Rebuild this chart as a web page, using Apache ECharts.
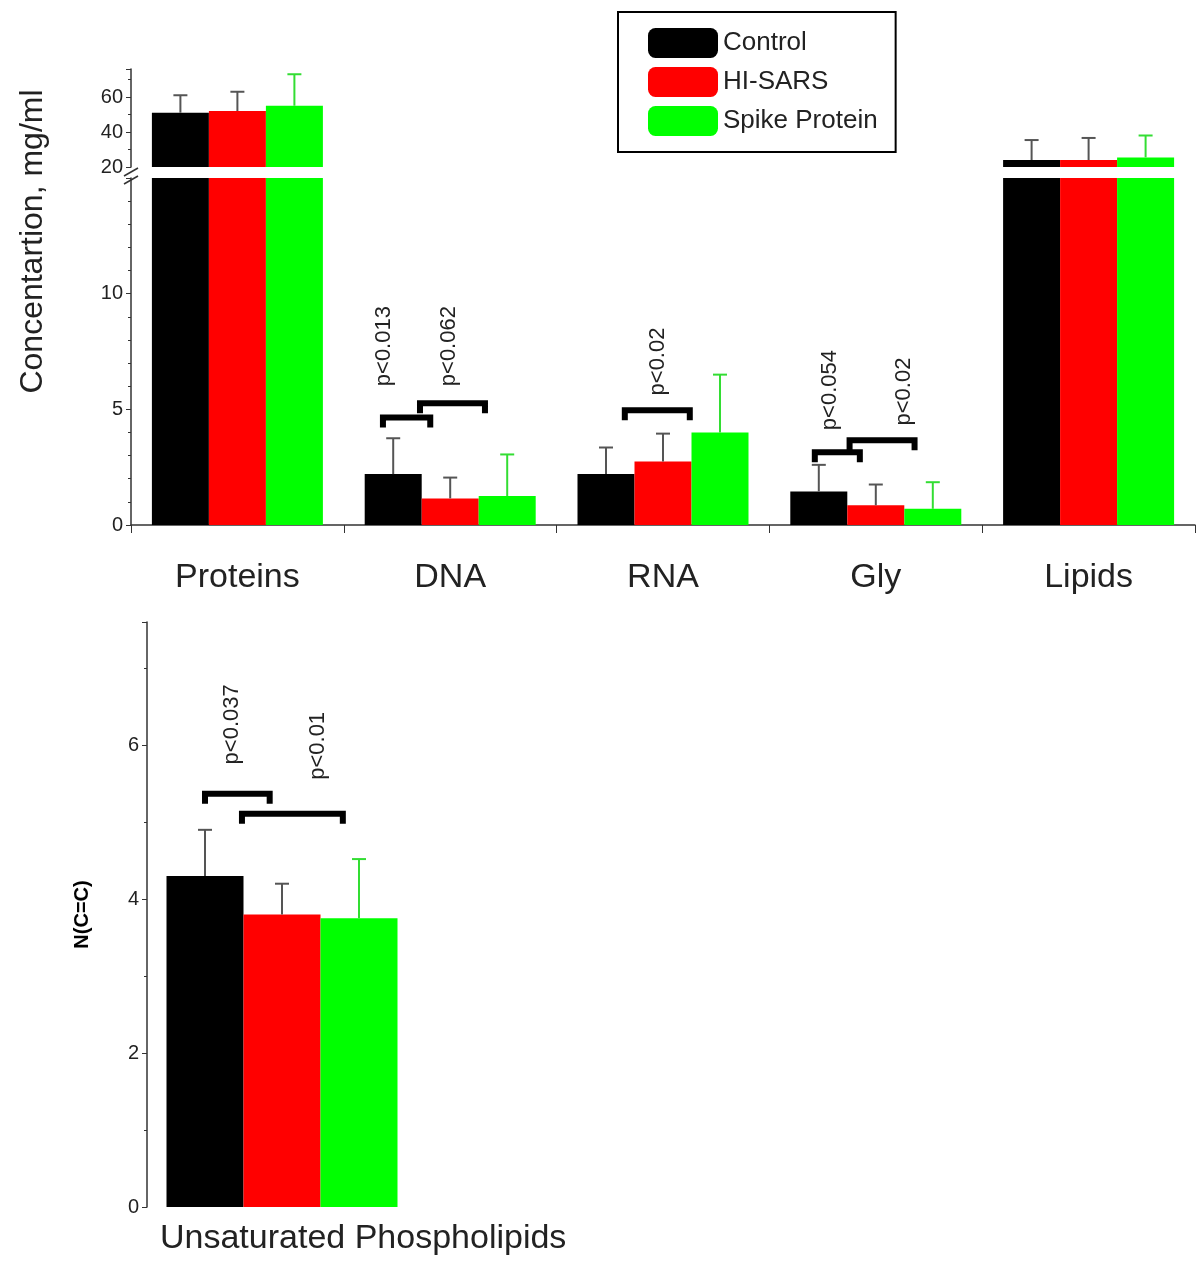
<!DOCTYPE html>
<html><head><meta charset="utf-8">
<script src="https://cdn.jsdelivr.net/npm/echarts@6/dist/echarts.min.js"></script>
<style>html,body{margin:0;background:#fff}#main{width:1200px;height:1266px}</style>
</head><body><div id="main"></div>
<script>
var categories = ['Proteins', 'DNA', 'RNA', 'Gly', 'Lipids'];
var seriesNames = ['Control', 'HI-SARS', 'Spike Protein'];
var colors = ['#000000', '#ff0000', '#00ff00'];
var errColors = ['#555555', '#555555', '#33dd33'];
var control = [51, 2.2, 2.2, 1.45, 24];
var hisars = [52, 1.15, 2.75, 0.85, 24];
var spike = [55, 1.25, 4.0, 0.7, 25.5];
var controlErr = [61, 3.75, 3.35, 2.6, 35.4];
var hisarsErr = [63, 2.05, 3.95, 1.75, 36.6];
var spikeErr = [73, 3.05, 6.5, 1.85, 38];
// brackets: [category, from bar pos, to bar pos, y, label x pos, label bottom y, text]
var brackets = [
  [1, -1.18, -0.35, 4.65, -1.17, 6.0, 'p<0.013'],
  [1, -0.53, 0.61, 5.26, -0.03, 6.0, 'p<0.062'],
  [2, -0.67, 0.47, 4.96, -0.09, 5.6, 'p<0.02'],
  [3, -1.07, -0.28, 3.15, -0.8, 4.1, 'p<0.054'],
  [3, -0.46, 0.68, 3.66, 0.5, 4.3, 'p<0.02']
];
var upCats = ['Unsaturated Phospholipids'];
var upVals = [[4.3], [3.8], [3.75]];
var upErr = [[4.9], [4.2], [4.52]];
var upBrackets = [
  [0, -1.0, -0.16, 5.37, -0.65, 5.75, 'p<0.037'],
  [0, -0.52, 0.79, 5.11, 0.47, 5.55, 'p<0.01']
];

var main = [control, hisars, spike];
var errs = [controlErr, hisarsErr, spikeErr];
var BW = 57, BW2 = 77;
var txt = '#222';
var font = 'Liberation Sans';

function errRender(bw) {
  return function (params, api) {
    var c = api.value(0), k = api.value(3);
    var p0 = api.coord([c, api.value(1)]);
    var p1 = api.coord([c, api.value(2)]);
    var x = p0[0] + (k - 1) * bw;
    var col = errColors[k];
    return {type: 'group', children: [
      {type: 'line', shape: {x1: x, y1: p0[1], x2: x, y2: p1[1]}, style: {stroke: col, lineWidth: 2}},
      {type: 'line', shape: {x1: x - 7, y1: p1[1], x2: x + 7, y2: p1[1]}, style: {stroke: col, lineWidth: 2}}
    ]};
  };
}
function brRender(bw, fs) {
  return function (params, api) {
    var c = api.value(0);
    var p = api.coord([c, api.value(3)]);
    var lb = api.coord([c, api.value(5)]);
    var xa = p[0] + api.value(1) * bw, xb = p[0] + api.value(2) * bw;
    var lx = p[0] + api.value(4) * bw;
    return {type: 'group', children: [
      {type: 'polyline', shape: {points: [[xa, p[1] + 10], [xa, p[1]], [xb, p[1]], [xb, p[1] + 10]]},
        style: {stroke: '#000', lineWidth: 6, fill: null}},
      {type: 'text', x: lx, y: lb[1], rotation: Math.PI / 2,
        style: {text: api.value(6), font: fs + 'px ' + font, fill: txt, align: 'left', verticalAlign: 'middle'}}
    ]};
  };
}

var series = [];
var errData = [], errUp = [];
for (var k = 0; k < 3; k++) {
  var low = main[k].slice();
  var up = main[k].map(function (v, i) { return (i === 0 || i === 4) ? v : null; });
  series.push({name: seriesNames[k], type: 'bar', xAxisIndex: 1, yAxisIndex: 1, data: low, barWidth: BW, barGap: '0%', clip: true, itemStyle: {color: colors[k]}});
  series.push({name: seriesNames[k], type: 'bar', xAxisIndex: 0, yAxisIndex: 0, data: up, barWidth: BW, barGap: '0%', clip: true, itemStyle: {color: colors[k]}});
  series.push({name: seriesNames[k], type: 'bar', xAxisIndex: 2, yAxisIndex: 2, data: upVals[k], barWidth: BW2, barGap: '0%', itemStyle: {color: colors[k]}});
  for (var i = 0; i < categories.length; i++) {
    if (i === 0 || i === 4) errUp.push([i, main[k][i], errs[k][i], k]);
    else errData.push([i, main[k][i], errs[k][i], k]);
  }
}
var errBottom = [];
for (var k2 = 0; k2 < 3; k2++) errBottom.push([0, upVals[k2][0], upErr[k2][0], k2]);

series.push({type: 'custom', xAxisIndex: 1, yAxisIndex: 1, data: errData, renderItem: errRender(BW), z: 5});
series.push({type: 'custom', xAxisIndex: 0, yAxisIndex: 0, data: errUp, renderItem: errRender(BW), z: 5});
series.push({type: 'custom', xAxisIndex: 2, yAxisIndex: 2, data: errBottom, renderItem: errRender(BW2), z: 5});
series.push({type: 'custom', xAxisIndex: 1, yAxisIndex: 1, data: brackets, renderItem: brRender(BW, 22), z: 6, clip: false});
series.push({type: 'custom', xAxisIndex: 2, yAxisIndex: 2, data: upBrackets, renderItem: brRender(BW2, 22), z: 6, clip: false});

var axLine = {lineStyle: {color: '#333', width: 1.5}};
var lbl = {color: txt, fontSize: 20, fontFamily: font};

var option = {
  animation: false,
  textStyle: {fontFamily: font},
  legend: {
    data: seriesNames, left: 618, top: 12, orient: 'vertical',
    padding: [16, 18, 16, 30], itemWidth: 70, itemHeight: 30, itemGap: 9,
    borderColor: '#000', borderWidth: 2, selectedMode: false,
    textStyle: {color: txt, fontSize: 26, fontFamily: font}
  },
  grid: [
    {left: 131, width: 1064, top: 69, height: 98},
    {left: 131, width: 1064, top: 178, height: 347},
    {left: 147, width: 270, top: 622, height: 585}
  ],
  xAxis: [
    {type: 'category', gridIndex: 0, data: categories, show: false},
    {type: 'category', gridIndex: 1, data: categories, axisLine: axLine,
      axisTick: {show: true, length: 8, lineStyle: {color: '#333'}},
      axisLabel: {color: txt, fontSize: 34, margin: 36, fontFamily: font}},
    {type: 'category', gridIndex: 2, data: upCats, axisLine: {show: false}, axisTick: {show: false}, axisLabel: {show: false}}
  ],
  yAxis: [
    {type: 'value', gridIndex: 0, min: 20, max: 76, interval: 20, splitLine: {show: false},
      axisLine: {show: true, lineStyle: {color: '#333', width: 1.5}}, axisTick: {show: true},
      minorTick: {show: true, splitNumber: 2}, axisLabel: Object.assign({showMaxLabel: false}, lbl)},
    {type: 'value', gridIndex: 1, min: 0, max: 15, interval: 5, splitLine: {show: false},
      axisLine: {show: true, lineStyle: {color: '#333', width: 1.5}}, axisTick: {show: true},
      minorTick: {show: true, splitNumber: 5}, axisLabel: Object.assign({showMaxLabel: false}, lbl),
      name: 'Concentartion, mg/ml', nameLocation: 'middle', nameGap: 82, nameRotate: 90,
      nameTextStyle: {color: txt, fontSize: 32, fontFamily: font, padding: [0, 0, 0, 220]}},
    {type: 'value', gridIndex: 2, min: 0, max: 7.6, interval: 2, splitLine: {show: false},
      axisLine: {show: true, lineStyle: {color: '#333', width: 1.5}}, axisTick: {show: true},
      minorTick: {show: true, splitNumber: 2}, axisLabel: Object.assign({showMaxLabel: false}, lbl),
      name: 'N(C=C)', nameLocation: 'middle', nameGap: 55, nameRotate: 90,
      nameTextStyle: {color: '#000', fontSize: 20, fontWeight: 'bold', fontFamily: font}}
  ],
  graphic: [
    {type: 'text', left: 160, top: 1222, style: {text: 'Unsaturated Phospholipids', font: '34px ' + font, fill: txt}},
    {type: 'line', shape: {x1: 124, y1: 176, x2: 138, y2: 168}, style: {stroke: '#333', lineWidth: 1.5}},
    {type: 'line', shape: {x1: 124, y1: 184, x2: 138, y2: 176}, style: {stroke: '#333', lineWidth: 1.5}}
  ],
  series: series
};
var myChart = echarts.init(document.getElementById('main'));
myChart.setOption(option);
</script></body></html>
